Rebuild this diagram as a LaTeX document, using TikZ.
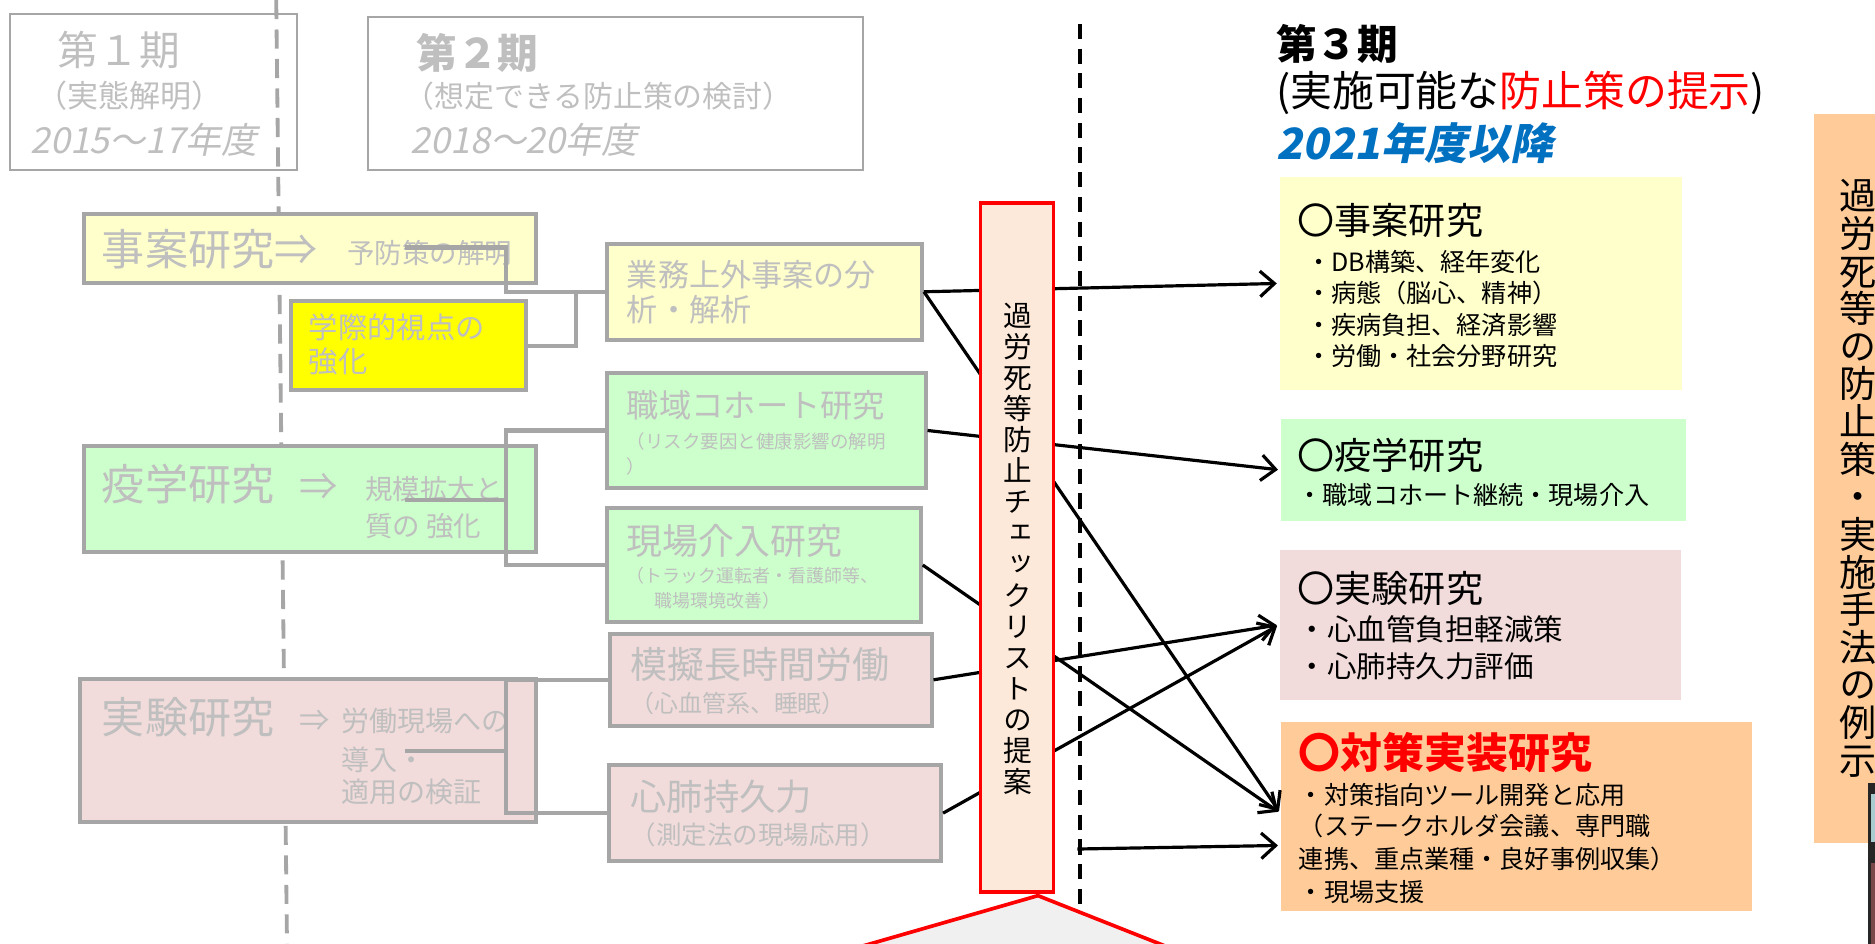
\documentclass[tikz,border=0pt]{standalone}
\usepackage{fontspec}
\usetikzlibrary{arrows.meta,calc,fit}
\newfontfamily\jp{Noto Sans CJK JP}
\newfontfamily\jpsl{Noto Sans CJK JP}[FakeSlant=0.2]
\newfontfamily\jpv{Noto Sans CJK JP}[RawFeature=+vert]
\newcommand\fsz[1]{\fontsize{#1}{#1}\selectfont}
\definecolor{gborder}{HTML}{A6A6A6}
\definecolor{gtext}{HTML}{BFBFBF}
\definecolor{lyel}{HTML}{FFFFCC}
\definecolor{yel}{HTML}{FFFF00}
\definecolor{lgrn}{HTML}{CCFFCC}
\definecolor{lpnk}{HTML}{F2DCDB}
\definecolor{peach}{HTML}{FFCC99}
\definecolor{rfill}{HTML}{FDE9D9}
\definecolor{myred}{HTML}{FF0000}
\definecolor{jblue}{HTML}{0070C0}
\definecolor{tfill}{HTML}{F0F0F0}
\definecolor{phteal}{HTML}{A8CCD0}
\definecolor{phred}{HTML}{7A4848}
\begin{document}
\begin{tikzpicture}[x=0.75pt,y=-0.75pt,
  box/.style={draw=gborder, line width=2.5pt, inner sep=0pt},
  hbox/.style={draw=gborder, line width=1.2pt, inner sep=0pt},
  rbox/.style={inner sep=0pt, draw=none},
  tx/.style={anchor=west, inner sep=0pt},
  gt/.style={tx, text=gtext},
  gline/.style={draw=gborder, line width=2.6pt},
  arr/.style={draw=black, line width=2pt, shorten >=1.5pt, -{Straight Barb[length=9pt,width=16pt]}},
  vt/.style={inner sep=0pt, align=center}]
\useasboundingbox (0,0) rectangle (1568,789.4);
\clip (0,0) rectangle (1568,789.4);

% period separators
\coordinate (g1) at (231,0); \coordinate (g2) at (240,789.4);
\draw[gborder, line width=2.4pt, dash pattern=on 12pt off 6.5pt] (g1) -- (g2);
\coordinate (d1) at (903,20); \coordinate (d2) at (903,789.4);
\draw[black, line width=2.4pt, dash pattern=on 9.5pt off 6pt] (d1) -- (d2);

% period headers
\node[hbox, fit={(8,12) (248,142)}] (P1) {};
\node[gt, font=\jp\fsz{25.5}] (p1a) at (48,42) {第１期};
\node[gt, font=\jp\fsz{19.5}] (p1b) at (30,80) {（実態解明）};
\node[gt, font=\jpsl\fsz{22.5}] (p1c) at (25,117) {2015～17年度};
\node[hbox, fit={(308,14) (722,142)}] (P2) {};
\node[gt, font=\jp\bfseries\fsz{25.5}] (p2a) at (348,44) {第２期};
\node[gt, font=\jp\fsz{18.75}] (p2b) at (338,80) {（想定できる防止策の検討）};
\node[gt, font=\jpsl\fsz{22.5}] (p2c) at (343,117) {2018～20年度};
\node[tx, font=\jp\bfseries\fsz{25.5}] (p3a) at (1067,37) {第３期};
\node[tx, font=\jp\fsz{26.25}] (p3b) at (1067,78) {(実施可能な\textcolor{myred}{防止策の提示})};
\node[tx, text=jblue, font=\jpsl\bfseries\fsz{27}] (p3c) at (1067,120) {2021年度以降};

% left column
\node[box, fill=lyel, fit={(70,179) (448,237)}] (J) {};
\node[gt, font=\jp\fsz{27}] (J1) at (85,208) {事案研究⇒};
\node[gt, font=\jp\fsz{17.25}] (J2) at (290,212) {予防策の解明};
\node[box, fill=yel, fit={(243,252) (440,326)}] (Y) {};
\node[gt, font=\jp\fsz{18.4}] (Y1) at (258,274) {学際的視点の};
\node[gt, font=\jp\fsz{18.4}] (Y2) at (258,302) {強化};
\node[box, fill=lgrn, fit={(70,373) (448,462)}] (E) {};
\node[gt, font=\jp\fsz{27}] (E1) at (85,405) {疫学研究};
\node[gt, font=\jp\fsz{24}] (E2) at (250,407) {⇒};
\node[gt, font=\jp\fsz{17.25}] (E3) at (305,409) {規模拡大と};
\node[gt, font=\jp\fsz{17.25}] (E4) at (305,440) {質の 強化};
\node[box, fill=lpnk, fit={(67,568) (448,687)}] (K) {};
\node[gt, font=\jp\fsz{27}] (K1) at (85,600) {実験研究};
\node[gt, font=\jp\fsz{19}] (K2) at (250,603) {⇒};
\node[gt, font=\jp\fsz{17.6}] (K3) at (285,603) {労働現場への};
\node[gt, font=\jp\fsz{17.6}] (K4) at (285,635) {導入・};
\node[gt, font=\jp\fsz{17.6}] (K5) at (285,662) {適用の検証};

% middle column
\node[box, fill=lyel, fit={(508,204) (771,284)}] (G) {};
\node[gt, font=\jp\fsz{19.5}] (G1) at (524,230) {業務上外事案の分};
\node[gt, font=\jp\fsz{19.5}] (G2) at (524,259) {析・解析};
\node[box, fill=lgrn, fit={(508,312) (774,408)}] (C) {};
\node[gt, font=\jp\fsz{20.25}] (C1) at (524,339) {職域コホート研究};
\node[gt, font=\jp\fsz{11.6}] (C2) at (524,369) {（リスク要因と健康影響の解明};
\node[gt, font=\jp\fsz{11.6}] (C3) at (524,390) {）};
\node[box, fill=lgrn, fit={(508,425) (770,520)}] (F) {};
\node[gt, font=\jp\fsz{22.5}] (F1) at (524,452) {現場介入研究};
\node[gt, font=\jp\fsz{11.25}] (F2) at (524,481) {（トラック運転者・看護師等、};
\node[gt, font=\jp\fsz{11.25}] (F3) at (547,502) {職場環境改善）};
\node[box, fill=lpnk, fit={(510,530) (779,607)}] (M) {};
\node[gt, font=\jp\fsz{23.25}] (M1) at (527,556) {模擬長時間労働};
\node[gt, font=\jp\fsz{15}] (M2) at (527,588) {（心血管系、睡眠）};
\node[box, fill=lpnk, fit={(509,640) (787,720)}] (H) {};
\node[gt, font=\jp\fsz{22.8}] (H1) at (527,666) {心肺持久力};
\node[gt, font=\jp\fsz{16}] (H2) at (527,698) {（測定法の現場応用）};

% grey connectors
\coordinate (jc) at (339,207); \coordinate (jj) at (423,244); \coordinate (gj) at (482,244);
\draw[gline] (jc) -| (jj) -- (G.west);
\draw[gline] (Y.east) -| (gj);
\coordinate (ec) at (339,418); \coordinate (ej) at (423,418);
\draw[gline] (C.west) -| (ej) |- (F.west);
\draw[gline] (ec) -- (ej);
\coordinate (kc) at (339,628); \coordinate (kj) at (423,628);
\draw[gline] (M.west) -| (kj) |- (H.west);
\draw[gline] (kc) -- (kj);

% right column
\node[rbox, fill=lyel, fit={(1070,148) (1407,326)}] (RJ) {};
\node[tx, font=\jp\fsz{23.25}] (RJ1) at (1085,184) {〇事案研究};
\node[tx, font=\jp\fsz{15.75}] (RJ2) at (1092,219) {・DB構築、経年変化};
\node[tx, font=\jp\fsz{15.75}] (RJ3) at (1092,245) {・病態（脳心、精神）};
\node[tx, font=\jp\fsz{15.75}] (RJ4) at (1092,272) {・疾病負担、経済影響};
\node[tx, font=\jp\fsz{15.75}] (RJ5) at (1092,298) {・労働・社会分野研究};
\node[rbox, fill=lgrn, fit={(1071,350) (1410,436)}] (RE) {};
\node[tx, font=\jp\fsz{23.25}] (RE1) at (1085,381) {〇疫学研究};
\node[tx, font=\jp\fsz{15.75}] (RE2) at (1085,414) {・職域コホート継続・現場介入};
\node[rbox, fill=lpnk, fit={(1070,460) (1406,585)}] (RK) {};
\node[tx, font=\jp\fsz{23.25}] (RK1) at (1085,492) {〇実験研究};
\node[tx, font=\jp\fsz{18.5}] (RK2) at (1085,526) {・心血管負担軽減策};
\node[tx, font=\jp\fsz{18.5}] (RK3) at (1085,557) {・心肺持久力評価};
\node[rbox, fill=peach, fit={(1071,604) (1465,762)}] (RT) {};
\node[tx, text=myred, font=\jp\bfseries\fsz{26.25}] (RT1) at (1086,629) {〇対策実装研究};
\node[tx, font=\jp\fsz{15.75}] (RT2) at (1086,665) {・対策指向ツール開発と応用};
\node[tx, font=\jp\fsz{15.75}] (RT3) at (1086,691) {（ステークホルダ会議、専門職};
\node[tx, font=\jp\fsz{15.75}] (RT4) at (1086,718) {連携、重点業種・良好事例収集）};
\node[tx, font=\jp\fsz{15.75}] (RT5) at (1086,746) {・現場支援};

% right strip
\node[rbox, fill=peach, fit={(1517,95) (1572,705)}] (S) {};
\node[vt, font=\jpv\fontsize{23.25}{23.6}\selectfont] (S1) at (1553.5,400) {過\\労\\死\\等\\の\\防\\止\\策\\・\\実\\施\\手\\法\\の\\例\\示};
\fill[black!85] (1562.5,655) rectangle (1572,795);
\fill[phteal] (1564.8,664) rectangle (1572,704);
\fill[phred] (1564.8,722) rectangle (1572,795);

% arrows
\draw[arr] (G.east) -- (RJ.west);
\draw[arr] (C.east) -- (RE.west);
\draw[arr] (M.east) -- (RK.west);
\draw[arr] (H.east) -- (RK.west);
\draw[arr] (G.east) -- ($(RT.west)+(0,-3)$);
\draw[arr] (F.east) -- ($(RT.west)+(0,-3)$);
\coordinate (hs) at (901,710);
\draw[arr] (hs) -- ($(RT.west)+(0,24)$);

% checklist box
\node[draw=myred, line width=2.3pt, fill=rfill, inner sep=0pt, fit={(820,170) (881,746)}] (R) {};
\node[vt, font=\jpv\fontsize{18}{19.5}\selectfont] (R1) at (851,459) {過\\労\\死\\等\\防\\止\\チ\\ェ\\ッ\\ク\\リ\\ス\\ト\\の\\提\\案};

% callout below
\coordinate (ta) at (868,749); \coordinate (tl) at (713.5,793.4); \coordinate (tr) at (980.2,793.4);
\fill[tfill] (tl) -- (ta) -- (tr) -- cycle;
\draw[myred, line width=2.3pt] (tl) -- (ta) -- (tr);
\end{tikzpicture}
\end{document}
